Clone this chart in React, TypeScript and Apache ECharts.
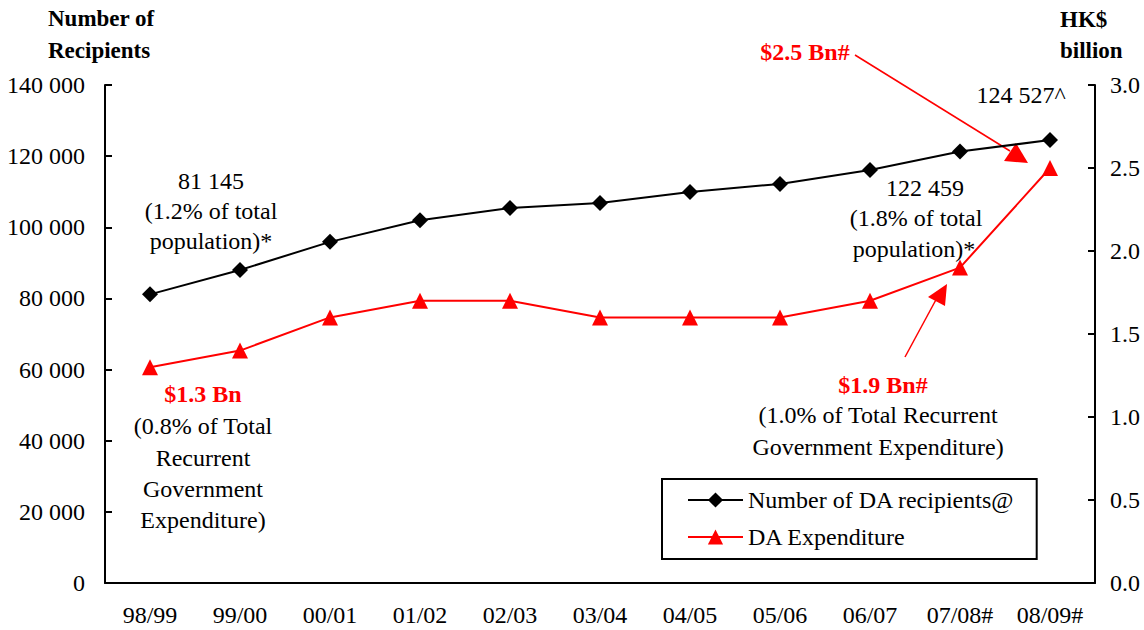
import React, { useEffect, useRef } from "react";
import * as echarts from "echarts";

const categories = ["98/99", "99/00", "00/01", "01/02", "02/03", "03/04", "04/05", "05/06", "06/07", "07/08#", "08/09#"];
const recipients = [81145, 88000, 95900, 102000, 105400, 106800, 109900, 112200, 116100, 121300, 124527];
const expenditure = [1.3, 1.4, 1.6, 1.7, 1.7, 1.6, 1.6, 1.6, 1.7, 1.9, 2.5];
const leftTicks = { min: 0, max: 140000, interval: 20000 };
const rightTicks = { min: 0, max: 3, interval: 0.5 };

const FONT = "'Liberation Serif', 'Times New Roman', serif";
const FS = 24;

export default function App() {
  const ref = useRef<HTMLDivElement>(null);
  useEffect(() => {
    if (!ref.current) return;
    const chart = echarts.init(ref.current, null, { renderer: "svg" });
    const txt = (x: number, y: number, text: string, opts: any = {}) => ({
      type: "text",
      x,
      y,
      style: {
        text,
        font: `${opts.bold ? "bold " : ""}${opts.size || FS}px ${FONT}`,
        fill: opts.color || "#000",
        align: opts.align || "center",
        verticalAlign: "middle",
      },
    });
    chart.setOption({
      animation: false,
      textStyle: { fontFamily: FONT },
      grid: { left: 105, right: 49, top: 85, bottom: 47, containLabel: false },
      legend: {
        left: 662,
        top: 479,
        orient: "vertical",
        borderColor: "#000",
        borderWidth: 2,
        padding: [9, 22, 10, 25],
        itemWidth: 55,
        itemHeight: 19,
        itemGap: 13,
        textStyle: { fontFamily: FONT, fontSize: FS, color: "#000" },
        data: ["Number of DA recipients@", "DA Expenditure"],
      },
      xAxis: {
        type: "category",
        data: categories,
        boundaryGap: true,
        axisLine: { lineStyle: { color: "#000", width: 2 } },
        axisTick: { inside: true, length: 7, lineStyle: { color: "#000", width: 2 } },
        axisLabel: { color: "#000", fontSize: FS, fontFamily: FONT, margin: 20, interval: 0 },
      },
      yAxis: [
        {
          type: "value",
          ...leftTicks,
          splitLine: { show: false },
          axisLine: { show: true, lineStyle: { color: "#000", width: 2 } },
          axisTick: { show: true, inside: true, length: 7, lineStyle: { color: "#000", width: 2 } },
          axisLabel: {
            color: "#000",
            fontSize: FS,
            fontFamily: FONT,
            margin: 20,
            formatter: (v: number) => String(v).replace(/\B(?=(\d{3})+(?!\d))/g, " "),
          },
        },
        {
          type: "value",
          position: "right",
          ...rightTicks,
          splitLine: { show: false },
          axisLine: { show: true, lineStyle: { color: "#000", width: 2 } },
          axisTick: { show: true, inside: true, length: 7, lineStyle: { color: "#000", width: 2 } },
          axisLabel: {
            color: "#000",
            fontSize: FS,
            fontFamily: FONT,
            margin: 15,
            formatter: (v: number) => v.toFixed(1),
          },
        },
      ],
      series: [
        {
          name: "Number of DA recipients@",
          type: "line",
          data: recipients,
          yAxisIndex: 0,
          symbol: "diamond",
          symbolSize: 16,
          itemStyle: { color: "#000" },
          lineStyle: { color: "#000", width: 2 },
        },
        {
          name: "DA Expenditure",
          type: "line",
          data: expenditure,
          yAxisIndex: 1,
          symbol: "triangle",
          symbolSize: 16,
          itemStyle: { color: "#ff0000" },
          lineStyle: { color: "#ff0000", width: 2 },
        },
      ],
      graphic: [
        txt(48, 18, "Number of", { bold: true, align: "left", size: 23 }),
        txt(48, 50, "Recipients", { bold: true, align: "left", size: 23 }),
        txt(1060, 19, "HK$", { bold: true, align: "left", size: 23 }),
        txt(1060, 50, "billion", { bold: true, align: "left", size: 23 }),
        txt(211, 181, "81 145"),
        txt(211, 211, "(1.2% of total"),
        txt(211, 241, "population)*"),
        txt(925, 188, "122 459"),
        txt(916, 218, "(1.8% of total"),
        txt(914, 249, "population)*"),
        txt(1021, 95, "124 527^"),
        txt(805, 52, "$2.5 Bn#", { bold: true, color: "#ff0000" }),
        txt(203, 394, "$1.3 Bn", { bold: true, color: "#ff0000" }),
        txt(203, 426, "(0.8% of Total"),
        txt(203, 458, "Recurrent"),
        txt(203, 489, "Government"),
        txt(203, 520, "Expenditure)"),
        txt(883, 385, "$1.9 Bn#", { bold: true, color: "#ff0000" }),
        txt(878, 415, "(1.0% of Total Recurrent"),
        txt(878, 447, "Government Expenditure)"),
        {
          type: "line",
          shape: { x1: 855, y1: 55, x2: 1010, y2: 151 },
          style: { stroke: "#ff0000", lineWidth: 1.5 },
        },
        {
          type: "polygon",
          shape: { points: [[1016, 143], [1004, 161], [1028, 163]] },
          style: { fill: "#ff0000" },
        },
        {
          type: "line",
          shape: { x1: 905, y1: 357, x2: 938, y2: 296 },
          style: { stroke: "#ff0000", lineWidth: 1.5 },
        },
        {
          type: "polygon",
          shape: { points: [[947, 284], [928, 297], [945, 306]] },
          style: { fill: "#ff0000" },
        },
      ],
    });
    return () => chart.dispose();
  }, []);
  return <div ref={ref} style={{ width: 1144, height: 630, position: "absolute", left: 0, top: 0 }} />;
}
